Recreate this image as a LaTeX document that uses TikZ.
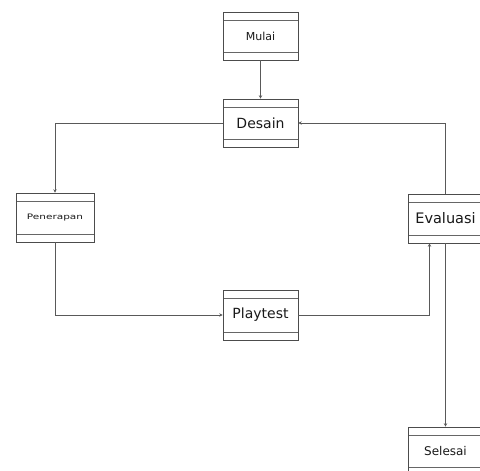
\documentclass[tikz,border=0pt]{standalone}
\usepackage{fontspec}
\usepackage{graphicx}
\setmainfont{DejaVu Sans}
\usetikzlibrary{arrows.meta}
\begin{document}
\begin{tikzpicture}[x=1pt,y=-1pt,
  umlbox/.style={draw=black!70, line width=0.6pt, fill=white,
    minimum width=75pt, minimum height=48pt, inner sep=0pt,
    text=black!90,
    path picture={
      \draw[black!60, line width=0.6pt]
        ([yshift=-8pt]path picture bounding box.north west) --
        ([yshift=-8pt]path picture bounding box.north east);
      \draw[black!60, line width=0.6pt]
        ([yshift=7.5pt]path picture bounding box.south west) --
        ([yshift=7.5pt]path picture bounding box.south east);
    }},
  conn/.style={draw=black!65, line width=0.6pt, -{Stealth[length=3.5pt,width=3.5pt]}}
]
\useasboundingbox (0,0) rectangle (480,471);
\node[umlbox, font=\fontsize{11}{13}\selectfont] (mulai) at (260.5,36) {Mulai};
\node[umlbox, font=\fontsize{14}{16}\selectfont] (desain) at (260.5,123) {Desain};
\node[umlbox, minimum width=78pt, minimum height=49pt, font=\fontsize{7.5}{9}\selectfont] (pener) at (55,217.5) {\scalebox{1.4}[1]{Penerapan}};
\node[umlbox, minimum height=49pt, font=\fontsize{14.5}{16}\selectfont] (eval) at (445.5,218.5) {Evaluasi};
\node[umlbox, minimum height=50pt, font=\fontsize{14}{16}\selectfont] (play) at (260.5,315) {Playtest};
\node[umlbox, font=\fontsize{12}{14}\selectfont] (selesai) at (445.5,451) {Selesai};
\draw[conn] (mulai) -- (desain);
\draw[conn] (desain.west) -| (pener.north);
\draw[conn] (pener.south) |- (play.west);
\draw[conn] (play.east) -| ([xshift=-16pt]eval.south);
\draw[conn] (eval.north) |- (desain.east);
\draw[conn] (eval.south) -- (selesai.north);
\end{tikzpicture}
\end{document}
